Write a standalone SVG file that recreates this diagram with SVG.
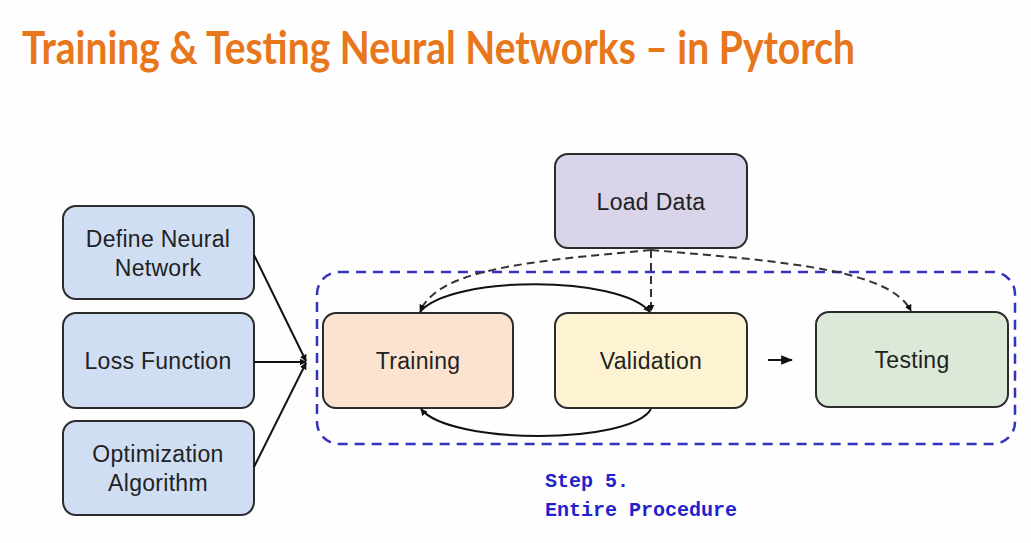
<svg xmlns="http://www.w3.org/2000/svg" width="1031" height="543" viewBox="0 0 1031 543">
<style>
.box{stroke:#2b2b2b;stroke-width:2}
.lbl{font-family:"Liberation Sans",Arial,sans-serif;font-size:23px;fill:#222;text-anchor:middle;letter-spacing:0.3px}
.con{fill:none;stroke:#111;stroke-width:2}
.dash{fill:none;stroke:#333;stroke-width:2;stroke-dasharray:8 5}
.step{font-family:"Liberation Mono","DejaVu Sans Mono",monospace;font-weight:bold;font-size:20px;fill:#2222cc}
</style>
<defs>
<marker id="ah" viewBox="0 0 10 10" refX="9" refY="5" markerWidth="7" markerHeight="7" orient="auto" markerUnits="userSpaceOnUse">
<path d="M0,0 L10,5 L0,10 z" fill="#111"/>
</marker>
<marker id="ahs" viewBox="0 0 10 10" refX="9" refY="5" markerWidth="12" markerHeight="12" orient="auto" markerUnits="userSpaceOnUse">
<path d="M0,1 L10,5 L0,9 z" fill="#111"/>
</marker>
</defs>
<rect width="1031" height="543" fill="#fefefe"/>
<text x="22" y="64" font-family="Lato,'Open Sans',sans-serif" font-weight="bold" font-size="45" fill="#e8761a" textLength="833" lengthAdjust="spacingAndGlyphs">Training &amp; Testing Neural Networks – in Pytorch</text>

<rect x="317" y="272" width="698" height="172" rx="22" fill="none" stroke="#3333bb" stroke-width="2.5" stroke-dasharray="10 7"/>

<g id="define">
<rect class="box" x="63" y="206" width="191" height="93" rx="13" fill="#d0def4"/>
<text class="lbl" x="158" y="247">Define Neural</text>
<text class="lbl" x="158" y="276">Network</text>
</g>
<g id="loss">
<rect class="box" x="63" y="313" width="191" height="95" rx="13" fill="#d0def4"/>
<text class="lbl" x="158" y="369">Loss Function</text>
</g>
<g id="optim">
<rect class="box" x="63" y="421" width="191" height="94" rx="13" fill="#d0def4"/>
<text class="lbl" x="158" y="462">Optimization</text>
<text class="lbl" x="158" y="491">Algorithm</text>
</g>
<g id="load">
<rect class="box" x="555" y="154" width="192" height="94" rx="13" fill="#d9d4ea"/>
<text class="lbl" x="651" y="210">Load Data</text>
</g>
<g id="training">
<rect class="box" x="323" y="313" width="190" height="95" rx="13" fill="#fbe3cf"/>
<text class="lbl" x="418" y="369">Training</text>
</g>
<g id="validation">
<rect class="box" x="555" y="313" width="192" height="95" rx="13" fill="#fdf3d2"/>
<text class="lbl" x="651" y="369">Validation</text>
</g>
<g id="testing">
<rect class="box" x="816" y="312" width="192" height="95" rx="13" fill="#dce9d8"/>
<text class="lbl" x="912" y="368">Testing</text>
</g>

<g id="connectors">
<line class="con" x1="254" y1="255" x2="306" y2="361" marker-end="url(#ah)"/>
<line class="con" x1="254" y1="362" x2="306" y2="362" marker-end="url(#ah)"/>
<line class="con" x1="254" y1="467" x2="306" y2="363" marker-end="url(#ah)"/>
<path class="con" d="M420,312 C450,275 620,275 650,312" marker-end="url(#ah)"/>
<path class="con" d="M651,409 C630,445 450,445 421,409" marker-end="url(#ah)"/>
<line class="con" x1="768" y1="360" x2="792" y2="360" marker-end="url(#ahs)"/>
<path class="dash" d="M651,250 C520,262 440,270 420,311" marker-end="url(#ah)"/>
<line class="dash" x1="651" y1="250" x2="651" y2="311" marker-end="url(#ah)"/>
<path class="dash" d="M651,250 C790,262 890,270 911,311" marker-end="url(#ah)"/>
</g>

<text class="step" x="545" y="487">Step 5.</text>
<text class="step" x="545" y="516">Entire Procedure</text>
</svg>
